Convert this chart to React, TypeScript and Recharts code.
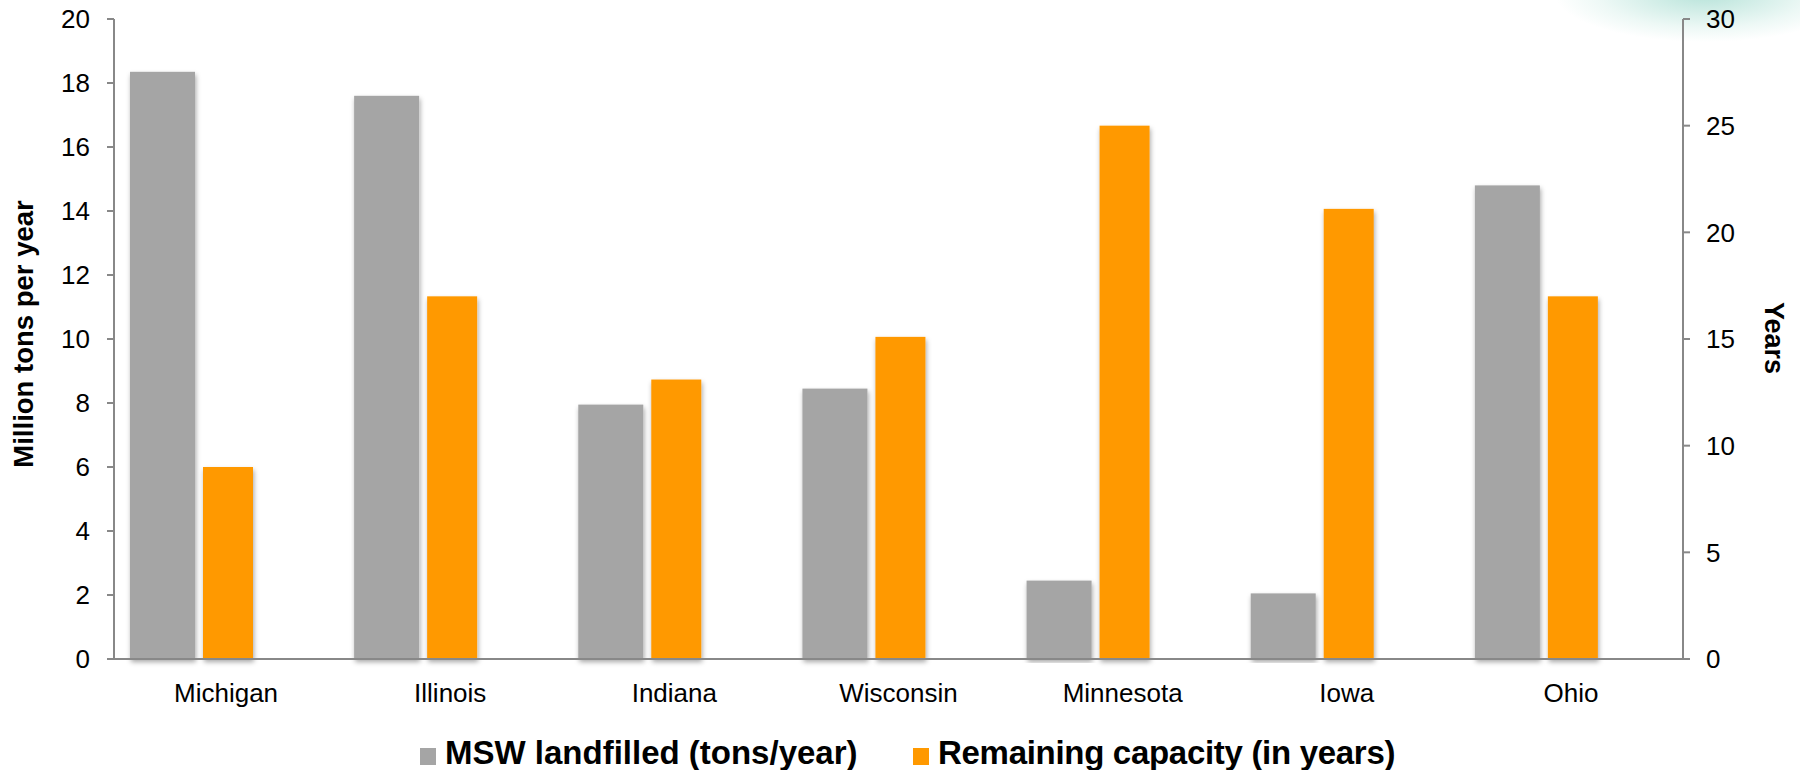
import React from 'react';
import { BarChart, Bar, XAxis, YAxis, Legend } from 'recharts';

// Landfill figures per state
const states = ['Michigan', 'Illinois', 'Indiana', 'Wisconsin', 'Minnesota', 'Iowa', 'Ohio'];
const mswLandfilled = [18.35, 17.6, 7.95, 8.45, 2.45, 2.05, 14.8];
const remainingYears = [9, 17, 13.1, 15.1, 25, 21.1, 17];

const tonsTicks = [0, 2, 4, 6, 8, 10, 12, 14, 16, 18, 20];
const yearTicks = [0, 5, 10, 15, 20, 25, 30];

const data = states.map((state, i) => ({
  state,
  msw: mswLandfilled[i],
  years: remainingYears[i],
}));

const FONT = '"Liberation Sans", Arial, Helvetica, sans-serif';
const AXIS_GREY = '#888888';
const MSW_GREY = '#A5A5A5';
const ORANGE = '#FF9900';

const CHART_WIDTH = 1800;
const CHART_HEIGHT = 770;

// bar pair sits left of the category centre
const GROUP_SHIFT = 35;
const LEGEND_LEFT = [420, 913];

const ShiftedBar = (props: any) => {
  const { x, y, width, height, fill } = props;
  if (!height || height <= 0) return null;
  return (
    <rect
      x={x - GROUP_SHIFT}
      y={y}
      width={width}
      height={height}
      fill={fill}
      filter="url(#barShadow)"
    />
  );
};

const renderLegend = (props: any) => {
  const payload = props.payload || [];
  return (
    <div style={{ position: 'relative', height: 40, fontFamily: FONT, fontWeight: 700, fontSize: 33, color: '#000' }}>
      {payload.map((entry: any, i: number) => (
        <div
          key={entry.value}
          style={{
            position: 'absolute',
            left: LEGEND_LEFT[i],
            top: 0,
            display: 'flex',
            alignItems: 'center',
            lineHeight: '40px',
            whiteSpace: 'nowrap',
            letterSpacing: i === 1 ? -0.3 : 0,
          }}
        >
          <span style={{ display: 'inline-block', width: 16, height: 17, background: entry.color, marginRight: 9, marginTop: 6 }} />
          <span>{entry.value}</span>
        </div>
      ))}
    </div>
  );
};

const LeftTitle = (props: any) => {
  const vb = props.viewBox || { x: 0, y: 0, height: 0 };
  const cx = vb.x + 33;
  const cy = vb.y + vb.height / 2 - 5;
  return (
    <text x={cx} y={cy} transform={`rotate(-90, ${cx}, ${cy})`} textAnchor="middle" fontSize={27.5} fontWeight={700} fill="#000">
      Million tons per year
    </text>
  );
};

const RightTitle = (props: any) => {
  const vb = props.viewBox || { x: 0, y: 0, height: 0 };
  const cx = vb.x + 82;
  const cy = vb.y + vb.height / 2 - 1;
  return (
    <text x={cx} y={cy} transform={`rotate(90, ${cx}, ${cy})`} textAnchor="middle" fontSize={27} fontWeight={700} fill="#000">
      Years
    </text>
  );
};

const tickStyle = { fill: '#000', fontSize: 26 };

export default function App() {
  return (
    <div
      style={{
        position: 'absolute',
        left: 0,
        top: 0,
        width: CHART_WIDTH,
        height: CHART_HEIGHT,
        fontFamily: FONT,
        background:
          'radial-gradient(ellipse 150px 48px at 1705px -6px, rgba(165, 220, 208, 0.8), rgba(215, 240, 234, 0.45) 70%, rgba(255,255,255,0) 100%), #fff',
        overflow: 'hidden',
      }}
    >
      <BarChart
        width={CHART_WIDTH}
        height={CHART_HEIGHT}
        data={data}
        margin={{ top: 19, right: 0, left: 0, bottom: 51 }}
        barGap={8}
      >
        <defs>
          <filter id="barShadow" x="-20%" y="-5%" width="140%" height="110%">
            <feDropShadow dx={1} dy={3} stdDeviation={2.5} floodColor="#000" floodOpacity={0.35} />
          </filter>
        </defs>
        <XAxis
          dataKey="state"
          height={60}
          tickLine={false}
          tickSize={0}
          tickMargin={25}
          axisLine={{ stroke: AXIS_GREY, strokeWidth: 2 }}
          tick={tickStyle}
          interval={0}
        />
        <YAxis
          yAxisId="left"
          width={114}
          domain={[0, 20]}
          ticks={tonsTicks}
          interval={0}
          tickSize={7}
          tickMargin={17}
          axisLine={{ stroke: AXIS_GREY, strokeWidth: 2 }}
          tickLine={{ stroke: AXIS_GREY, strokeWidth: 2 }}
          tick={tickStyle}
          label={<LeftTitle />}
        />
        <YAxis
          yAxisId="right"
          orientation="right"
          width={117}
          domain={[0, 30]}
          ticks={yearTicks}
          interval={0}
          tickSize={7}
          tickMargin={16}
          axisLine={{ stroke: AXIS_GREY, strokeWidth: 2 }}
          tickLine={{ stroke: AXIS_GREY, strokeWidth: 2 }}
          tick={tickStyle}
          label={<RightTitle />}
        />
        <Legend
          layout="horizontal"
          align="center"
          verticalAlign="middle"
          content={renderLegend}
          wrapperStyle={{ top: 733, left: 0, width: CHART_WIDTH, height: 40 }}
        />
        <Bar
          yAxisId="left"
          dataKey="msw"
          name="MSW landfilled (tons/year)"
          fill={MSW_GREY}
          barSize={65}
          shape={ShiftedBar}
          isAnimationActive={false}
        />
        <Bar
          yAxisId="right"
          dataKey="years"
          name="Remaining capacity (in years)"
          fill={ORANGE}
          barSize={50}
          shape={ShiftedBar}
          isAnimationActive={false}
        />
      </BarChart>
    </div>
  );
}
